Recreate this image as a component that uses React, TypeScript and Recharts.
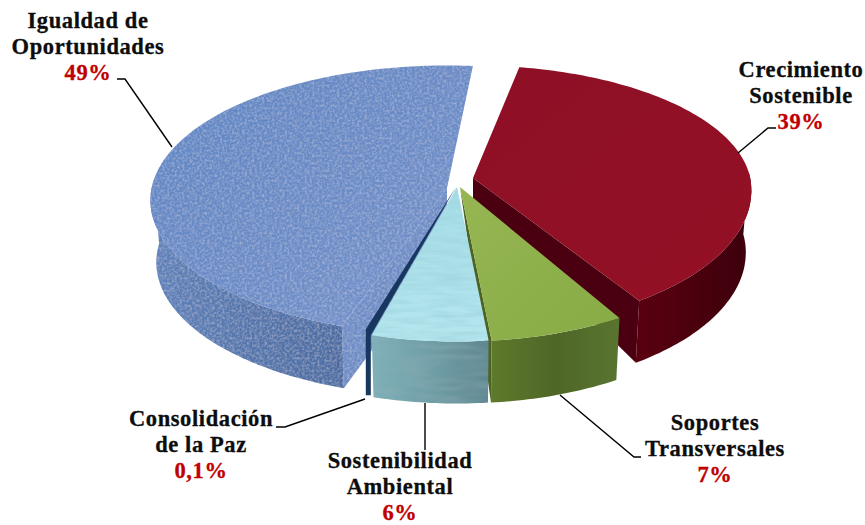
import { PieChart, Pie } from "recharts";

const names = [
  "Igualdad de Oportunidades",
  "Crecimiento Sostenible",
  "Soportes Transversales",
  "Sostenibilidad Ambiental",
  "Consolidación de la Paz",
];
const values = [49, 39, 7, 6, 0.1];
const percentLabels = ["49%", "39%", "7%", "6%", "0,1%"];
const labelLines = [
  ["Igualdad de", "Oportunidades"],
  ["Crecimiento", "Sostenible"],
  ["Soportes", "Transversales"],
  ["Sostenibilidad", "Ambiental"],
  ["Consolidación", "de la Paz"],
];

// drawing only: 3D look of each slice
const topFills = ["url(#blueTop)", "url(#redTop)", "url(#greenTop)", "url(#aquaTop)", "#17375e"];
const wallFills = ["url(#blueWall)", "url(#redWall)", "url(#greenWall)", "url(#aquaWall)", "#17375e"];
const cutFills = ["#6e8dc6", "#4a0010", "#4c6323", "#6f9fa8", "#17375e"];
const offsets = [[-11, 0], [15, -10], [2, -1], [-1, -1], [-2, -1]];
const apexDepths = [60, 25, 0, 0, 0];
const rxScales = [1.055, 0.99, 1.03, 1.03, 1.03];
const ryTopScales = [0.98, 0.9, 1, 1, 1];
const ryFrontScales = [0.98, 1, 1.03, 1.03, 1.03];
const startNudges = [-3, 0, 0, 0, 0];
const endNudges = [5, 3, 0, 0, 0];
const topFilters = ["url(#grain)", undefined, undefined, "url(#ripple)", undefined];
const wallFilters = ["url(#grain)", undefined, undefined, "url(#wallRipple)", undefined];

const labelPos = [
  { x: 88, y: 28 },
  { x: 801, y: 77 },
  { x: 715, y: 430 },
  { x: 400, y: 468 },
  { x: 201, y: 426 },
];
const leaders = [
  "172,147 125,79 117,79",
  "738,153 768,128 776,128",
  "560,395 634,457 641,457",
  "425,403 425,450",
  "365,399 285,427 276,427",
];

const chartData = names.map((name, i) => ({ name, value: values[i] }));

const TILT = 0.487;
const PERSPECTIVE = 0.0909;
const DEPTH = 62;
const BOTTOM_SCALE = 0.98;
const SLIVER = 5;

const rad = (d: number) => (d * Math.PI) / 180;

const project = (i: number, cx: number, cy: number, r: number, deg: number) => {
  const s = Math.sin(rad(deg));
  const d = 1 + PERSPECTIVE * s;
  const ry = s > 0 ? ryTopScales[i] : ryFrontScales[i];
  return [cx + (r * rxScales[i] * Math.cos(rad(deg))) / d, cy - (r * ry * TILT * s) / d];
};

const sampleAngles = (from: number, to: number) => {
  const n = Math.max(2, Math.ceil(Math.abs(to - from)));
  return Array.from({ length: n + 1 }, (_, i) => from + ((to - from) * i) / n);
};

const toPoints = (pts: number[][]) => pts.map((p) => `${p[0].toFixed(1)},${p[1].toFixed(1)}`).join(" ");

const Slice3D = (props: any) => {
  const { cx, cy, outerRadius } = props;
  const i = names.indexOf(props.name);
  const startAngle = props.startAngle + startNudges[i];
  const endAngle = props.endAngle + endNudges[i];
  const ax = cx + offsets[i][0];
  const ay = cy + offsets[i][1];
  const lower = (p: number[]) => [ax + (p[0] - ax) * BOTTOM_SCALE, p[1] + DEPTH];

  const arc = sampleAngles(startAngle, endAngle).map((a) => project(i, ax, ay, outerRadius, a));

  if (i === 4) {
    // the 0,1% slice is too thin to see, so it is drawn as a ribbon along its edge
    const edge = project(i, ax, ay, outerRadius, startAngle);
    const ribbon = [
      [ax, ay],
      edge,
      [edge[0], edge[1] + DEPTH - 2],
      [edge[0] - SLIVER, edge[1] + DEPTH - 2],
      [edge[0] - SLIVER, edge[1] - 6],
    ];
    return <polygon points={toPoints(ribbon)} fill={topFills[i]} />;
  }

  // only the part of the rim facing the viewer has a visible wall
  const front = sampleAngles(startAngle, endAngle).filter((a) => Math.sin(rad(a)) < 0.06);
  const rimTop = front.map((a) => project(i, ax, ay, outerRadius, a));
  const rimBottom = rimTop.map(lower).reverse();

  const cutWall = (deg: number) => {
    const p = project(i, ax, ay, outerRadius, deg);
    return [[ax, ay], p, lower(p), [ax, ay + apexDepths[i]]];
  };
  const startVisible = Math.sin(rad(startAngle)) < 0 && Math.cos(rad(startAngle)) < 0;
  const endVisible = Math.sin(rad(endAngle)) < 0 && Math.cos(rad(endAngle)) > 0;

  return (
    <g>
      {startVisible && <polygon points={toPoints(cutWall(startAngle))} fill={cutFills[i]} filter={topFilters[i]} />}
      {endVisible && <polygon points={toPoints(cutWall(endAngle))} fill={cutFills[i]} />}
      {rimTop.length > 1 && (
        <polygon points={toPoints([...rimTop, ...rimBottom])} fill={wallFills[i]} filter={wallFilters[i]} />
      )}
      <polygon points={toPoints([[ax, ay], ...arc])} fill={topFills[i]} filter={topFilters[i]} />
    </g>
  );
};

const textStyle = {
  fontFamily: "'Liberation Serif', serif",
  fontWeight: 700,
  fontSize: 22.5,
  letterSpacing: 0.6,
  stroke: "currentColor",
  strokeWidth: 0.3,
};

const SliceLabel = (props: any) => {
  const i = props.index;
  const { x, y } = labelPos[i];
  return (
    <g>
      <polyline points={leaders[i]} fill="none" stroke="#000" strokeWidth={1.4} />
      {labelLines[i].map((line, k) => (
        <text key={line} x={x} y={y + k * 26} textAnchor="middle" fill="#0d0d0d" color="#0d0d0d" style={textStyle}>
          {line}
        </text>
      ))}
      <text x={x} y={y + 52} textAnchor="middle" fill="#c00000" color="#c00000" style={textStyle}>
        {percentLabels[i]}
      </text>
    </g>
  );
};

export default function App() {
  return (
    <div style={{ position: "absolute", left: 0, top: 0 }}>
      <PieChart width={865} height={525} margin={{ top: 0, right: 0, bottom: 0, left: 0 }}>
        <defs>
          <linearGradient id="blueTop" x1="0" y1="0" x2="1" y2="1">
            <stop offset="0" stopColor="#5f86c4" />
            <stop offset="0.5" stopColor="#6a8bc6" />
            <stop offset="1" stopColor="#7693cc" />
          </linearGradient>
          <linearGradient id="blueWall" x1="0" y1="0" x2="1" y2="0">
            <stop offset="0" stopColor="#5f82ba" />
            <stop offset="0.5" stopColor="#5476ad" />
            <stop offset="1" stopColor="#4c6ca2" />
          </linearGradient>
          <linearGradient id="redTop" x1="0" y1="0" x2="1" y2="1">
            <stop offset="0" stopColor="#8e1026" />
            <stop offset="1" stopColor="#941024" />
          </linearGradient>
          <linearGradient id="redWall" x1="0" y1="0" x2="1" y2="0">
            <stop offset="0" stopColor="#5a0010" />
            <stop offset="1" stopColor="#3c000c" />
          </linearGradient>
          <linearGradient id="greenTop" x1="0" y1="0" x2="1" y2="1">
            <stop offset="0" stopColor="#96b652" />
            <stop offset="1" stopColor="#87ab46" />
          </linearGradient>
          <linearGradient id="greenWall" x1="0" y1="0" x2="1" y2="0">
            <stop offset="0" stopColor="#5e7a2b" />
            <stop offset="0.5" stopColor="#4f6627" />
            <stop offset="1" stopColor="#587530" />
          </linearGradient>
          <linearGradient id="aquaTop" x1="0" y1="0" x2="0" y2="1">
            <stop offset="0" stopColor="#a6dde6" />
            <stop offset="1" stopColor="#b4e6ee" />
          </linearGradient>
          <linearGradient id="aquaWall" x1="0" y1="0" x2="1" y2="0">
            <stop offset="0" stopColor="#7fb0b8" />
            <stop offset="0.6" stopColor="#6d9aa3" />
            <stop offset="1" stopColor="#5f8790" />
          </linearGradient>
          <filter id="grain" x="0" y="0" width="1" height="1">
            <feTurbulence type="fractalNoise" baseFrequency="0.4" numOctaves={2} seed={4} />
            <feGaussianBlur stdDeviation="0.7" />
            <feColorMatrix type="matrix" values="0 0 0 0 1  0 0 0 0 1  0 0 0 0 1  0.5 0 0 0 -0.2" result="speck" />
            <feComposite in="speck" in2="SourceAlpha" operator="in" result="clipped" />
            <feMerge>
              <feMergeNode in="SourceGraphic" />
              <feMergeNode in="clipped" />
            </feMerge>
          </filter>
          <filter id="ripple" x="0" y="0" width="1" height="1">
            <feTurbulence type="fractalNoise" baseFrequency="0.03 0.22" numOctaves={2} seed={7} />
            <feGaussianBlur stdDeviation="0.6" />
            <feColorMatrix type="matrix" values="0 0 0 0 0.3  0 0 0 0 0.6  0 0 0 0 0.68  1 0 0 0 -0.35" result="speck" />
            <feComposite in="speck" in2="SourceAlpha" operator="in" result="clipped" />
            <feMerge>
              <feMergeNode in="SourceGraphic" />
              <feMergeNode in="clipped" />
            </feMerge>
          </filter>
          <filter id="wallRipple" x="0" y="0" width="1" height="1">
            <feTurbulence type="fractalNoise" baseFrequency="0.03 0.2" numOctaves={2} seed={11} />
            <feGaussianBlur stdDeviation="0.8" />
            <feColorMatrix type="matrix" values="0 0 0 0 0.3  0 0 0 0 0.45  0 0 0 0 0.5  0.7 0 0 0 -0.25" result="speck" />
            <feComposite in="speck" in2="SourceAlpha" operator="in" result="clipped" />
            <feMerge>
              <feMergeNode in="SourceGraphic" />
              <feMergeNode in="clipped" />
            </feMerge>
          </filter>
        </defs>
        <Pie
          data={chartData}
          dataKey="value"
          nameKey="name"
          cx={458}
          cy={188}
          outerRadius={280}
          startAngle={-106}
          endAngle={-466}
          stroke="none"
          shape={Slice3D}
          label={SliceLabel}
          labelLine={false}
          isAnimationActive={false}
        />
      </PieChart>
    </div>
  );
}
